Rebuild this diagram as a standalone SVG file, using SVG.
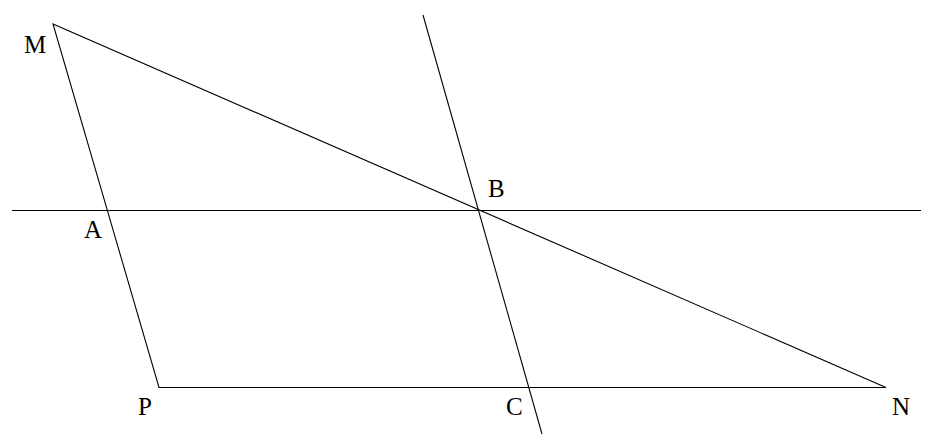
<svg xmlns="http://www.w3.org/2000/svg" width="943" height="437" viewBox="0 0 943 437">
<style>
.ln{stroke:#000;stroke-width:1.1;fill:none}
.lb{font-family:"Liberation Serif","Times New Roman",serif;font-size:25px;fill:#000}
</style>
<rect width="943" height="437" fill="#fff"/>
<g id="connectors">
<line class="ln" x1="12" y1="210.5" x2="921" y2="210.5"/>
<line class="ln" x1="423" y1="15" x2="542" y2="434"/>
<polyline class="ln" points="886,387.5 53,24 159,387.5 886,387.5"/>
</g>
<g id="M"><text class="lb" x="24" y="53">M</text></g>
<g id="A"><text class="lb" x="84" y="238">A</text></g>
<g id="B"><text class="lb" x="488" y="197">B</text></g>
<g id="P"><text class="lb" x="138" y="415">P</text></g>
<g id="C"><text class="lb" x="506" y="415">C</text></g>
<g id="N"><text class="lb" x="892" y="415">N</text></g>
</svg>
